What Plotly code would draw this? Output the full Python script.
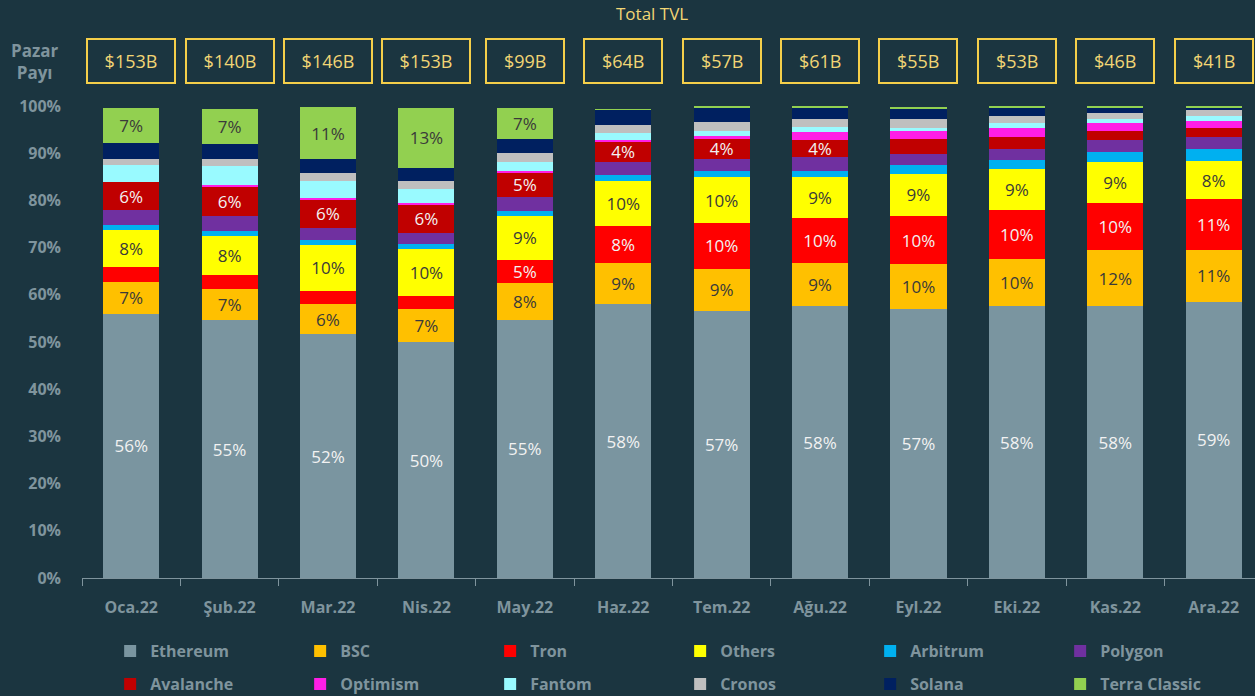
import plotly.graph_objects as go

months = ["Oca.22", "Şub.22", "Mar.22", "Nis.22", "May.22", "Haz.22",
          "Tem.22", "Ağu.22", "Eyl.22", "Eki.22", "Kas.22", "Ara.22"]
total_tvl = ["$153B", "$140B", "$146B", "$153B", "$99B", "$64B",
             "$57B", "$61B", "$55B", "$53B", "$46B", "$41B"]
y_ticks = [0, 10, 20, 30, 40, 50, 60, 70, 80, 90, 100]
y_tick_labels = ["0%", "10%", "20%", "30%", "40%", "50%",
                 "60%", "70%", "80%", "90%", "100%"]

ethereum = [56.0, 54.6, 51.6, 50.0, 54.7, 58.0, 56.6, 57.6, 56.9, 57.6, 57.6, 58.5]
bsc = [6.8, 6.6, 6.4, 6.9, 7.9, 8.8, 8.9, 9.1, 9.6, 10.0, 11.8, 11.0]
tron = [3.0, 3.1, 2.9, 2.8, 4.8, 7.7, 9.7, 9.5, 10.2, 10.4, 10.1, 10.7]
others = [8.0, 8.2, 9.7, 9.9, 9.3, 9.6, 9.7, 8.7, 9.0, 8.6, 8.6, 8.1]
arbitrum = [1.0, 1.1, 1.0, 1.1, 1.1, 1.2, 1.3, 1.4, 1.8, 1.9, 2.1, 2.5]
polygon = [3.1, 3.0, 2.5, 2.5, 3.0, 2.8, 2.5, 2.9, 2.3, 2.3, 2.6, 2.6]
avalanche = [6.0, 6.4, 6.1, 5.9, 5.1, 4.4, 4.4, 3.6, 3.2, 2.7, 2.0, 2.0]
optimism = [0.1, 0.2, 0.3, 0.3, 0.3, 0.35, 0.5, 1.6, 1.6, 1.8, 1.6, 1.4]
fantom = [3.6, 4.0, 3.6, 3.0, 2.0, 1.4, 1.1, 1.1, 0.8, 1.0, 0.8, 1.1]
cronos = [1.1, 1.6, 1.7, 1.8, 1.8, 1.8, 2.0, 1.8, 1.8, 1.5, 1.4, 1.2]
solana = [3.5, 3.2, 2.9, 2.7, 3.0, 3.2, 3.0, 2.4, 2.3, 1.9, 1.1, 0.6]
terra_classic = [7.4, 7.4, 11.1, 12.7, 6.6, 0.1, 0.1, 0.1, 0.1, 0.1, 0.1, 0.1]

series = [
    ("Ethereum", ethereum, "#7A95A0", "#F2F2F2", True, "legend"),
    ("BSC", bsc, "#FFC000", "#3A3A3A", True, "legend"),
    ("Tron", tron, "#FF0000", "#F2F2F2", True, "legend"),
    ("Others", others, "#FFFF00", "#3A3A3A", True, "legend"),
    ("Arbitrum", arbitrum, "#00B0F0", "#3A3A3A", False, "legend"),
    ("Polygon", polygon, "#7030A0", "#F2F2F2", False, "legend"),
    ("Avalanche", avalanche, "#C00000", "#F2F2F2", True, "legend2"),
    ("Optimism", optimism, "#FF1EE6", "#3A3A3A", False, "legend2"),
    ("Fantom", fantom, "#99FAFF", "#3A3A3A", False, "legend2"),
    ("Cronos", cronos, "#BFBFBF", "#3A3A3A", False, "legend2"),
    ("Solana", solana, "#002060", "#F2F2F2", False, "legend2"),
    ("Terra Classic", terra_classic, "#92D050", "#3A3A3A", True, "legend2"),
]

BG = "#1B3540"
GRAY = "#7F949D"
GOLD = "#F5CF4A"
CREAM = "#F2D675"
FONT = "Open Sans"

fig = go.Figure()
for name, vals, color, tcolor, labeled, lg in series:
    texts = [f"{int(v + 0.5)}%" if (labeled and v >= 3.5) else "" for v in vals]
    fig.add_trace(go.Bar(
        x=months, y=vals, name=name, legend=lg,
        marker=dict(color=color, line=dict(width=0)),
        text=texts, textposition="inside", insidetextanchor="middle",
        textangle=0, constraintext="none",
        textfont=dict(family=FONT, size=17, color=tcolor),
        hoverinfo="x+y+name",
    ))

# Total TVL boxes
for m, t in zip(months, total_tvl):
    fig.add_annotation(
        x=m, xref="x", y=1.0953, yref="paper", yanchor="middle",
        text=t, showarrow=False,
        font=dict(family=FONT, size=18, color=CREAM),
        bordercolor=GOLD, borderwidth=2, borderpad=1,
        width=36 + 9.6 * len(t), height=40, bgcolor=BG,
    )

fig.add_annotation(
    x=0.4858, xref="paper", xanchor="center", y=1.195, yref="paper", yanchor="middle",
    text="Total TVL", showarrow=False,
    font=dict(family=FONT, size=17, color=CREAM),
)
fig.add_annotation(
    x=-0.0404, xref="paper", xanchor="center", y=1.0953, yref="paper", yanchor="middle",
    text="Pazar<br>Payı", showarrow=False,
    font=dict(family=FONT, size=17, color=GRAY, weight="bold"),
)

legend_common = dict(
    orientation="h", xanchor="left", x=0.024, yanchor="middle",
    entrywidth=145, entrywidthmode="pixels", traceorder="normal",
    font=dict(family=FONT, size=16, color=GRAY, weight="bold"),
    bgcolor="rgba(0,0,0,0)", itemclick=False,
)

fig.update_layout(
    width=1255, height=696,
    paper_bgcolor=BG, plot_bgcolor=BG,
    barmode="stack", bargap=0.43,
    margin=dict(l=82, r=0, t=106, b=118, autoexpand=False),
    legend=dict(y=-0.1547, **legend_common),
    legend2=dict(y=-0.2246, **legend_common),
    xaxis=dict(
        type="category", range=[-0.5, 11.42],
        tickson="boundaries", ticks="outside", ticklen=7, tickcolor=GRAY,
        showline=True, linecolor=GRAY, linewidth=1,
        showgrid=False, zeroline=False,
        tickfont=dict(family=FONT, size=16, color=GRAY, weight="bold"),
        ticklabelstandoff=15,
    ),
    yaxis=dict(
        range=[0, 100], tickmode="array", tickvals=y_ticks, ticktext=y_tick_labels,
        showgrid=False, zeroline=False, showline=False,
        tickfont=dict(family=FONT, size=16, color=GRAY, weight="bold"),
        ticklabelstandoff=20,
    ),
    showlegend=True,
)

fig.write_html(
    "out.html",
    config={"displayModeBar": False},
    post_script="document.body.style.margin='0';document.body.style.overflow='hidden';",
)
